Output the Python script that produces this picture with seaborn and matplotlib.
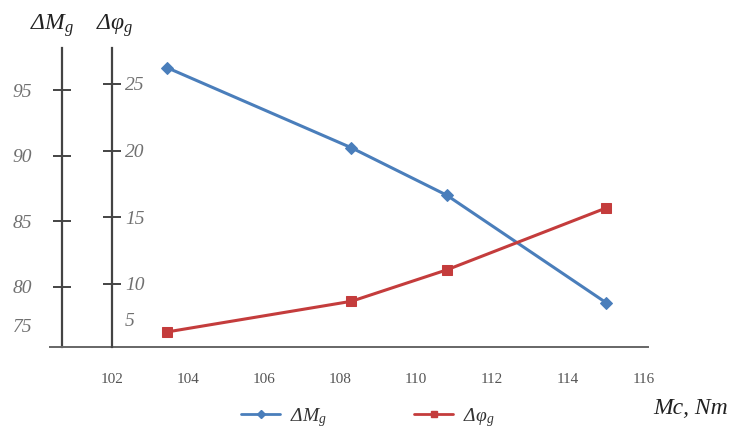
import matplotlib.pyplot as plt
import seaborn as sns
from matplotlib.lines import Line2D

# ── data ──
mc = [103.45, 108.3, 110.8, 115.0]          # Mc, Nm
delta_m = [96.7, 90.6, 87.0, 78.8]          # ΔMg
delta_phi = [6.4, 8.7, 11.05, 15.7]         # Δφg

x_ticks = [102, 104, 106, 108, 110, 112, 114, 116]
m_ticks = [80, 85, 90, 95]
phi_ticks = [10, 15, 20, 25]

BLUE = "#4a7ebb"
RED = "#c43c3c"
AXIS = "#444444"
LABEL = "#707070"

sns.set_style("white")
plt.rcParams["font.family"] = ["Liberation Serif", "DejaVu Serif"]
plt.rcParams["mathtext.fontset"] = "custom"
plt.rcParams["mathtext.it"] = "Liberation Serif:italic"
plt.rcParams["mathtext.rm"] = "Liberation Serif"

fig = plt.figure(figsize=(7.51, 4.32), dpi=100)
ax = fig.add_axes([50 / 751, 1 - 347 / 432, 598 / 751, 299 / 432])
ax2 = ax.twinx()

sns.lineplot(x=mc, y=delta_m, ax=ax, color=BLUE, lw=2.2, marker="D",
             markersize=6, markeredgecolor=BLUE, legend=False)
sns.lineplot(x=mc, y=delta_phi, ax=ax2, color=RED, lw=2.2, marker="s",
             markersize=7.5, markeredgecolor=RED, legend=False)

ax.set_xlim(100.37, 116.1)
ax.set_ylim(75.43, 98.2)
ax2.set_ylim(5.27, 27.7)

# ── spines ──
for s in ["top", "right"]:
    ax.spines[s].set_visible(False)
for s in ["top", "bottom", "left"]:
    ax2.spines[s].set_visible(False)
ax.spines["left"].set_position(("data", 100.68))
ax.spines["left"].set_color(AXIS)
ax.spines["left"].set_linewidth(1.6)
ax.spines["bottom"].set_color("#666666")
ax.spines["bottom"].set_linewidth(1.4)
ax2.spines["right"].set_position(("data", 102.0))
ax2.spines["right"].set_color(AXIS)
ax2.spines["right"].set_linewidth(1.6)

# ── x ticks ──
ax.set_xticks(x_ticks, labels=[str(t) for t in x_ticks])
ax.tick_params(axis="x", direction="out", length=3, width=1, color="#aaaaaa",
               labelcolor="#555555", labelsize=11, pad=16)
ax.set_xlabel("")

# ── ΔMg axis ──
ax.set_yticks(m_ticks, labels=[str(t) for t in m_ticks], fontstyle="italic")
ax.set_yticks([77.1], labels=["75"], minor=True, fontstyle="italic")
ax.tick_params(axis="y", which="major", direction="inout", length=13, width=1.4,
               color=AXIS, labelcolor=LABEL, labelsize=14, pad=15)
ax.tick_params(axis="y", which="minor", length=0, labelcolor=LABEL,
               labelsize=14, pad=15 + 6.5)
ax.set_ylabel("")

# ── Δφg axis ──
ax2.set_yticks(phi_ticks, labels=[str(t) for t in phi_ticks], fontstyle="italic")
ax2.set_yticks([7.3], labels=["5"], minor=True, fontstyle="italic")
ax2.tick_params(axis="y", which="major", direction="inout", length=13, width=1.4,
                color=AXIS, labelcolor=LABEL, labelsize=14, pad=3)
ax2.tick_params(axis="y", which="minor", length=0, labelcolor=LABEL,
                labelsize=14, pad=3 + 6.5)
ax2.set_ylabel("")

# ── axis titles ──
lbl_m = "ΔM$_{g}$"
lbl_phi = "Δφ$_{g}$"
fig.text(52 / 751, 1 - 26 / 432, lbl_m, fontsize=17, fontstyle="italic",
         ha="center", va="center", color="#222222")
fig.text(115 / 751, 1 - 26 / 432, lbl_phi, fontsize=17, fontstyle="italic",
         ha="center", va="center", color="#222222")
fig.text(653 / 751, 1 - 408 / 432, "Mc, Nm", fontsize=17, fontstyle="italic",
         ha="left", va="center", color="#222222")

# ── legend ──
handles = [
    Line2D([], [], color=BLUE, lw=2, marker="D", markersize=4),
    Line2D([], [], color=RED, lw=2, marker="s", markersize=5),
]
fig.legend(handles, [lbl_m, lbl_phi], loc="center", bbox_to_anchor=(0.49, 0.034),
           ncol=2, frameon=False, prop={"size": 14, "style": "italic"},
           handlelength=2.0, handletextpad=0.5, columnspacing=4.5,
           labelcolor="#333333")

fig.savefig("out.png", dpi=100)
